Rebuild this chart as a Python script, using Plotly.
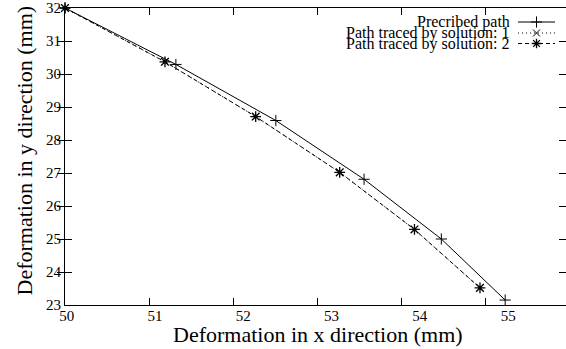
import plotly.graph_objects as go

# ---- data ----
x_prescribed = [50.0, 51.32, 52.51, 53.56, 54.48, 55.24]
y_prescribed = [32.0, 30.29, 28.59, 26.81, 25.00, 23.15]

x_solution1 = [50.0, 51.19, 52.27, 53.27, 54.16, 54.94]
y_solution1 = [32.0, 30.37, 28.71, 27.02, 25.29, 23.52]

x_solution2 = [50.0, 51.19, 52.27, 53.27, 54.16, 54.94]
y_solution2 = [32.0, 30.37, 28.71, 27.02, 25.29, 23.52]

x_tick_values = [50, 51, 52, 53, 54, 55]
x_tick_labels = ["50", "51", "52", "53", "54", "55"]
y_tick_values = [23, 24, 25, 26, 27, 28, 29, 30, 31, 32]

series_names = ["Precribed path", "Path traced by solution: 1", "Path traced by solution: 2"]

FONT = "Liberation Serif"
BLACK = "black"

fig = go.Figure()

fig.add_trace(go.Scatter(
    x=x_prescribed, y=y_prescribed, mode="lines+markers", name=series_names[0],
    line=dict(color=BLACK, width=1),
    marker=dict(symbol="cross-thin-open", size=8, color=BLACK, line=dict(color=BLACK, width=1)),
    cliponaxis=False, showlegend=False))
fig.add_trace(go.Scatter(
    x=x_solution1, y=y_solution1, mode="lines+markers", name=series_names[1],
    line=dict(color=BLACK, width=1, dash="1px,3px"),
    marker=dict(symbol="x-thin-open", size=7, color=BLACK, line=dict(color=BLACK, width=1)),
    cliponaxis=False, showlegend=False))
fig.add_trace(go.Scatter(
    x=x_solution2, y=y_solution2, mode="lines+markers", name=series_names[2],
    line=dict(color=BLACK, width=1, dash="4px,3px"),
    marker=dict(symbol="asterisk-open", size=9, color=BLACK, line=dict(color=BLACK, width=1.3)),
    cliponaxis=False, showlegend=False))

# invisible trace so the tick-label axis (x2) is drawn
fig.add_trace(go.Scatter(x=x_tick_values, y=[None] * len(x_tick_values), xaxis="x2", yaxis="y",
                         mode="markers", showlegend=False, hoverinfo="skip"))

# ---- custom legend (sample on the right of the text, as in the reference) ----
leg_rows = [22, 33, 43.5]
leg_x0, leg_xm, leg_x1 = 518, 536.5, 555
styles = [
    (dict(color=BLACK, width=1), dict(symbol="cross-thin-open", size=8, color=BLACK, line=dict(color=BLACK, width=1))),
    (dict(color=BLACK, width=1, dash="1px,3px"), dict(symbol="x-thin-open", size=7, color=BLACK, line=dict(color=BLACK, width=1))),
    (dict(color=BLACK, width=1, dash="4px,3px"), dict(symbol="asterisk-open", size=8, color=BLACK, line=dict(color=BLACK, width=1.3))),
]
for name, yy, (ln, mk) in zip(series_names, leg_rows, styles):
    fig.add_trace(go.Scatter(x=[leg_x0, leg_x1], y=[yy, yy], mode="lines", line=ln,
                             xaxis="x3", yaxis="y3", showlegend=False, hoverinfo="skip"))
    fig.add_trace(go.Scatter(x=[leg_xm], y=[yy], mode="markers", marker=mk,
                             xaxis="x3", yaxis="y3", showlegend=False, hoverinfo="skip"))
    fig.add_annotation(x=512, y=yy, xref="x3", yref="y3", text=name, showarrow=False,
                       xanchor="right", yanchor="middle",
                       font=dict(family=FONT, size=16, color=BLACK))

# axis titles
fig.add_annotation(xref="paper", yref="paper", x=0.505, y=-0.098, text="Deformation in x direction (mm)",
                   showarrow=False, xanchor="center", yanchor="middle",
                   font=dict(family=FONT, size=22, color=BLACK))
fig.add_annotation(xref="paper", yref="paper", x=-0.08, y=0.52, text="Deformation in y direction (mm)",
                   showarrow=False, textangle=-90, xanchor="center", yanchor="middle",
                   font=dict(family=FONT, size=22, color=BLACK))

fig.update_layout(
    width=566, height=349,
    margin=dict(l=65, r=0, t=8, b=44),
    paper_bgcolor="white", plot_bgcolor="white",
    font=dict(family=FONT, color=BLACK),
    xaxis=dict(range=[50, 55.964], tickvals=x_tick_values, showticklabels=False,
               ticks="inside", ticklen=7, tickcolor=BLACK, tickwidth=1,
               showline=True, linecolor=BLACK, linewidth=1, mirror="allticks",
               showgrid=False, zeroline=False),
    xaxis2=dict(overlaying="x", side="bottom", anchor="y", range=[49.981, 55.655],
                tickvals=x_tick_values, ticktext=x_tick_labels, ticks="",
                showline=False, showgrid=False, zeroline=False,
                tickfont=dict(family=FONT, size=15, color=BLACK)),
    yaxis=dict(range=[23, 32], tickvals=y_tick_values,
               ticks="inside", ticklen=7, tickcolor=BLACK, tickwidth=1,
               showline=True, linecolor=BLACK, linewidth=1, mirror="allticks",
               showgrid=False, zeroline=False,
               tickfont=dict(family=FONT, size=15, color=BLACK)),
    xaxis3=dict(overlaying="x", range=[65, 566], visible=False, anchor="y3"),
    yaxis3=dict(overlaying="y", range=[305, 8], visible=False, anchor="x3"),
)

fig.write_html("out.html")
